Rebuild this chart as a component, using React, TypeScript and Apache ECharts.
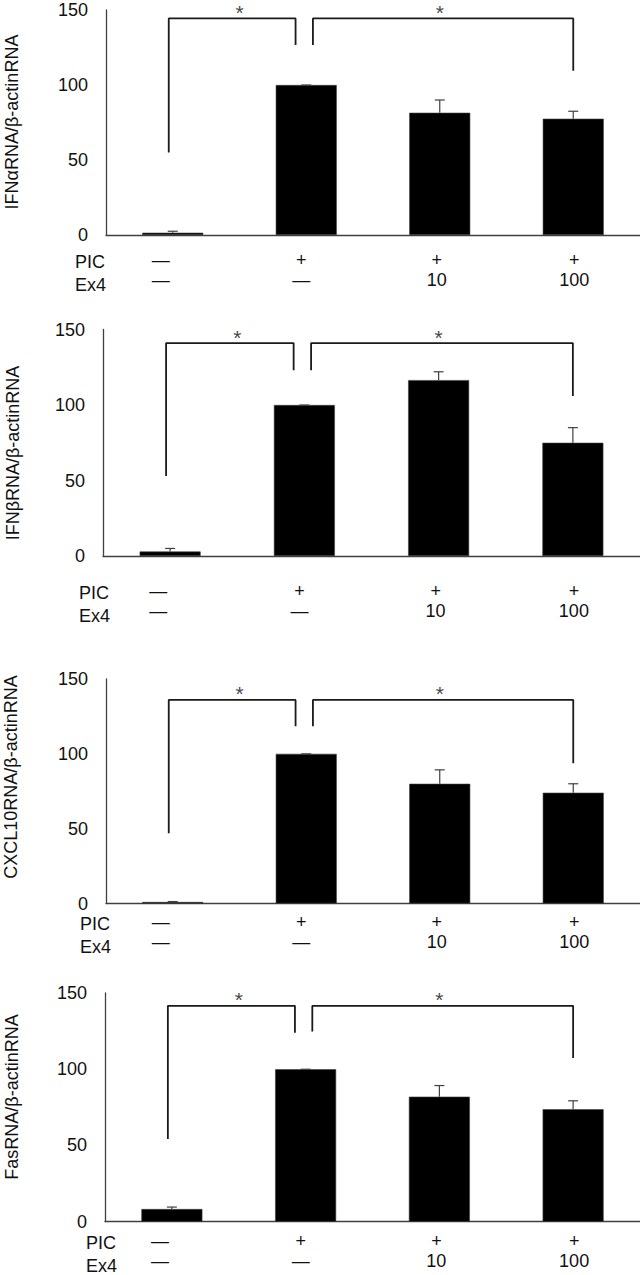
import React, { useEffect, useRef } from "react";
import * as echarts from "echarts";

// ---- data ----
const categories = ["ctrl", "PIC", "PIC+Ex4 10", "PIC+Ex4 100"];
const picLabels = ["—", "+", "+", "+"];
const ex4Labels = ["—", "—", "10", "100"];
const yTicksMax = 150;
const yTickStep = 50;

const ifnaMean = [1.5, 100, 81.5, 77.5];
const ifnaErr = [1, 0, 8.5, 5];
const ifnbMean = [3, 100, 116.5, 75];
const ifnbErr = [2, 0, 5.5, 10];
const cxclMean = [1, 100, 80, 74];
const cxclErr = [0.3, 0, 9.3, 6];
const fasMean = [8.3, 100, 82, 73.8];
const fasErr = [1.3, 0, 7.3, 5.5];

// bracket legs: [left-leg bottom, top, mid-left bottom, mid-right bottom, right-leg bottom]
const bracketX = [-0.03, 0.92, 1.05, 3.0];
const ifnaBracket = [55, 144.4, 126.7, 126.7, 109.5];
const ifnbBracket = [53, 141, 123, 123, 106];
const cxclBracket = [47, 136, 118.4, 118.4, 93.7];
const fasBracket = [54.3, 141.6, 124, 124.8, 107.3];
const starX = [0.5, 2.0];

const yNames = ["IFNαRNA/β-actinRNA", "IFNβRNA/β-actinRNA", "CXCL10RNA/β-actinRNA", "FasRNA/β-actinRNA"];

// ---- layout / style ----
const FONT = "'Liberation Sans', Arial, sans-serif";
const W = 640;
const H = 1275;
const layouts = [
  { left: 106, top: 10, height: 225, labelMargin: 18, rowX: 75, nameX: 12, nameY: 122 },
  { left: 103, top: 329.5, height: 226.5, labelMargin: 28, rowX: 79, nameX: 13, nameY: 453 },
  { left: 106, top: 679, height: 224.5, labelMargin: 11.5, rowX: 80, nameX: 11, nameY: 777 },
  { left: 105, top: 993, height: 228.7, labelMargin: 12.3, rowX: 86, nameX: 12, nameY: 1097 },
];
const labelShift = [
  [24, 0],
  [10, 0],
  [6, 0],
  [0, 2],
];

const panels = [
  { mean: ifnaMean, err: ifnaErr, br: ifnaBracket },
  { mean: ifnbMean, err: ifnbErr, br: ifnbBracket },
  { mean: cxclMean, err: cxclErr, br: cxclBracket },
  { mean: fasMean, err: fasErr, br: fasBracket },
];

function buildOption() {
  const grid: any[] = [];
  const xAxis: any[] = [];
  const yAxis: any[] = [];
  const series: any[] = [];
  const graphic: any[] = [];

  const rich: any = {};
  labelShift.forEach(([r, l], i) => {
    rich["t" + i] = { fontSize: 18, lineHeight: 18, fontFamily: FONT, color: "#111", padding: [0, r, 5, l] };
    rich["b" + i] = { fontSize: 18, lineHeight: 18, fontFamily: FONT, color: "#111", padding: [0, r, 0, l] };
  });

  panels.forEach((pn, p) => {
    const L = layouts[p];
    grid.push({ left: L.left, top: L.top, width: W - L.left, height: L.height, containLabel: false });
    xAxis.push({
      type: "category",
      gridIndex: p,
      data: categories,
      axisLine: { show: true, onZero: false, lineStyle: { color: "#404040", width: 1.3 } },
      axisTick: { show: false },
      splitLine: { show: false },
      axisLabel: {
        interval: 0,
        margin: L.labelMargin,
        formatter: (_v: string, i: number) => `{t${i}|${picLabels[i]}}\n{b${i}|${ex4Labels[i]}}`,
        rich,
      },
    });
    xAxis.push({ type: "value", gridIndex: p, min: -0.5, max: 3.5, show: false, axisLine: { onZero: false } });
    yAxis.push({
      type: "value",
      gridIndex: p,
      min: 0,
      max: yTicksMax,
      interval: yTickStep,
      axisLine: { show: true, onZero: false, lineStyle: { color: "#404040", width: 1.3 } },
      axisTick: { show: false },
      splitLine: { show: false },
      axisLabel: { fontSize: 18, fontFamily: FONT, color: "#111", margin: 18 },
    });

    series.push({
      type: "bar",
      xAxisIndex: 2 * p,
      yAxisIndex: p,
      data: pn.mean,
      barWidth: 61,
      itemStyle: { color: "#000", borderColor: "#404040", borderWidth: 0.6 },
      z: 2,
    });
    series.push({
      type: "custom",
      xAxisIndex: 2 * p,
      yAxisIndex: p,
      data: pn.mean.map((m, i) => [i, m, pn.err[i]]),
      encode: { x: 0, y: 1 },
      z: 3,
      renderItem: (_params: any, api: any) => {
        const i = api.value(0);
        const m = api.value(1);
        const e = api.value(2);
        const b = api.coord([i, m]);
        const t = api.coord([i, m + e]);
        const st = { stroke: "#404040", lineWidth: 1.2 };
        return {
          type: "group",
          children: [
            { type: "line", shape: { x1: b[0], y1: b[1], x2: t[0], y2: t[1] }, style: st },
            { type: "line", shape: { x1: t[0] - 5, y1: t[1], x2: t[0] + 5, y2: t[1] }, style: st },
          ],
        };
      },
    });
    const br = pn.br;
    const lineStyle = { color: "#1a1a1a", width: 1.8 };
    series.push({
      type: "line",
      xAxisIndex: 2 * p + 1,
      yAxisIndex: p,
      data: [
        [bracketX[0], br[0]],
        [bracketX[0], br[1]],
        [bracketX[1], br[1]],
        [bracketX[1], br[2]],
      ],
      symbol: "none",
      lineStyle,
      clip: false,
      z: 4,
    });
    series.push({
      type: "line",
      xAxisIndex: 2 * p + 1,
      yAxisIndex: p,
      data: [
        [bracketX[2], br[3]],
        [bracketX[2], br[1]],
        [bracketX[3], br[1]],
        [bracketX[3], br[4]],
      ],
      symbol: "none",
      lineStyle,
      clip: false,
      z: 4,
    });
    series.push({
      type: "scatter",
      xAxisIndex: 2 * p + 1,
      yAxisIndex: p,
      data: starX.map((x) => [x, br[1] + 4]),
      symbolSize: 1,
      itemStyle: { color: "rgba(0,0,0,0)" },
      clip: false,
      label: {
        show: true,
        position: "inside",
        formatter: "*",
        fontSize: 21,
        lineHeight: 12,
        fontFamily: FONT,
        color: "#111",
      },
      z: 5,
    });

    // axis name (rotated) and row labels
    graphic.push({
      type: "text",
      x: L.nameX,
      y: L.nameY,
      rotation: Math.PI / 2,
      style: {
        text: yNames[p],
        fontSize: 18,
        fontFamily: FONT,
        fill: "#111",
        align: "center",
        verticalAlign: "middle",
      },
    });
    const baseY = L.top + L.height;
    const row1 = baseY + L.labelMargin + 9;
    graphic.push({
      type: "text",
      x: L.rowX,
      y: row1,
      style: { text: "PIC", fontSize: 18, fontFamily: FONT, fill: "#111", align: "left", verticalAlign: "middle" },
    });
    graphic.push({
      type: "text",
      x: L.rowX,
      y: row1 + 23,
      style: { text: "Ex4", fontSize: 18, fontFamily: FONT, fill: "#111", align: "left", verticalAlign: "middle" },
    });
  });

  return {
    animation: false,
    backgroundColor: "#fff",
    grid,
    xAxis,
    yAxis,
    series,
    graphic,
  };
}

export default function App() {
  const ref = useRef<HTMLDivElement>(null);
  useEffect(() => {
    if (!ref.current) return;
    const chart = echarts.init(ref.current, undefined, { renderer: "svg" });
    chart.setOption(buildOption() as any);
    return () => chart.dispose();
  }, []);
  return (
    <div
      ref={ref}
      style={{ position: "absolute", left: 0, top: 0, width: W, height: H, background: "#fff" }}
    />
  );
}
